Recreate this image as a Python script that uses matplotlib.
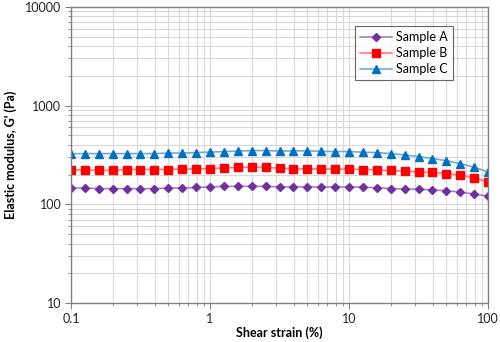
import matplotlib
matplotlib.use("Agg")
import matplotlib.pyplot as plt
from matplotlib.ticker import LogLocator, FixedLocator, FixedFormatter, NullFormatter

plt.rcParams['font.family'] = ['Lato', 'DejaVu Sans']

# strain sweep: ten points per decade from 0.1 % to 100 %
strain = [round(10 ** (-1 + i / 10), 4) for i in range(31)]

sample_a = [146, 146, 144, 144, 144, 144, 144, 146, 146, 148, 150,
            152, 152, 152, 152, 150, 150, 150, 150, 150, 150, 149,
            147, 144, 143, 142, 140, 137, 133, 127, 121]
sample_b = [223, 223, 221, 221, 225, 225, 225, 225, 228, 228, 230,
            234, 236, 238, 236, 233, 228, 228, 228, 228, 227, 225,
            223, 220, 216, 213, 210, 205, 198, 185, 169]
sample_c = [326, 326, 326, 326, 326, 326, 326, 330, 330, 334, 338,
            342, 346, 350, 350, 346, 348, 348, 344, 342, 342, 337,
            334, 326, 316, 304, 290, 277, 258, 238, 213]

x_ticks = [0.1, 1, 10, 100]
x_labels = ['0.1', '1', '10', '100']
y_ticks = [10, 100, 1000, 10000]
y_labels = ['10', '100', '1000', '10000']

fig = plt.figure(figsize=(5.0, 3.42), dpi=100)
ax = fig.add_axes([0.142, 0.114, 0.834, 0.866])

ax.plot(strain, sample_a, '-', color='#a27fc4', lw=1.2, marker='D', ms=4,
        mfc='#7030a0', mec='#7030a0', label='Sample A')
ax.plot(strain, sample_b, '-', color='#ff7a7a', lw=1.2, marker='s', ms=6,
        mfc='#ff0000', mec='#ff0000', label='Sample B')
ax.plot(strain, sample_c, '-', color='#6fa8dc', lw=1.2, marker='^', ms=6,
        mfc='#0070c0', mec='#0070c0', label='Sample C')

ax.set_xscale('log')
ax.set_yscale('log')
ax.set_xlim(0.1, 100)
ax.set_ylim(10, 10000)

ax.xaxis.set_major_locator(FixedLocator(x_ticks))
ax.xaxis.set_major_formatter(FixedFormatter(x_labels))
ax.yaxis.set_major_locator(FixedLocator(y_ticks))
ax.yaxis.set_major_formatter(FixedFormatter(y_labels))
ax.xaxis.set_minor_locator(LogLocator(base=10, subs=range(2, 10)))
ax.yaxis.set_minor_locator(LogLocator(base=10, subs=range(2, 10)))
ax.xaxis.set_minor_formatter(NullFormatter())
ax.yaxis.set_minor_formatter(NullFormatter())

ax.grid(which='both', color='#d9d9d9', lw=0.8)
ax.set_axisbelow(True)
ax.tick_params(which='major', length=4, color='#808080', labelsize=9,
               labelcolor='#222222', pad=3)
ax.tick_params(which='minor', length=2, color='#808080')
for sp in ax.spines.values():
    sp.set_color('#808080')
    sp.set_linewidth(1.0)

ax.set_xlabel('Shear strain (%)', fontsize=9, fontweight='bold', labelpad=1)
ax.set_ylabel("Elastic modulus, G' (Pa)", fontsize=9, fontweight='bold',
              labelpad=6)

leg = ax.legend(loc='upper right', bbox_to_anchor=(0.93, 0.955), fontsize=9,
                frameon=True, fancybox=False, borderpad=0.4,
                labelspacing=0.3, handlelength=2.6, handletextpad=0.3)
leg.get_frame().set_edgecolor('#404040')
leg.get_frame().set_linewidth(0.8)

fig.savefig('out.png', dpi=100)
